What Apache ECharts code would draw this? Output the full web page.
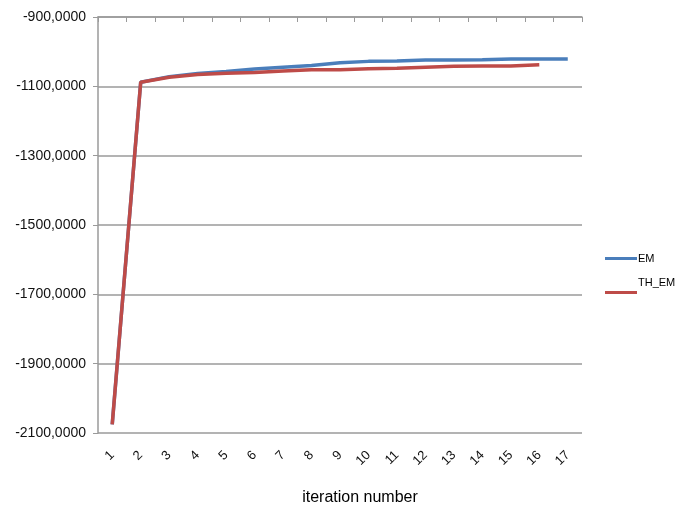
<!DOCTYPE html>
<html>
<head>
<meta charset="utf-8">
<script src="https://cdn.jsdelivr.net/npm/echarts@6/dist/echarts.min.js"></script>
<style>html,body{margin:0;padding:0;background:#fff;}#c{width:683px;height:506px;}</style>
</head>
<body>
<div id="c"></div>
<script>
var categories = ['1','2','3','4','5','6','7','8','9','10','11','12','13','14','15','16','17'];
var emValues = [-2075,-1088,-1072,-1063,-1057,-1050,-1045,-1040,-1032,-1028,-1027,-1024,-1024,-1023,-1021,-1021,-1021];
var thEmValues = [-2075,-1088,-1074,-1066,-1062,-1060,-1056,-1052,-1052,-1049,-1048,-1045,-1042,-1041,-1041,-1038];
var yMin = -2100, yMax = -900, yStep = 200;

var chart = echarts.init(document.getElementById('c'));
var font = 'Liberation Sans, Arial, sans-serif';
chart.setOption({
  animation: false,
  backgroundColor: '#fff',
  grid: {left: 98, right: 101, top: 17, bottom: 73, containLabel: false, outerBoundsMode: 'none'},
  legend: {
    orient: 'vertical', left: 600, top: 248, itemGap: 13,
    itemWidth: 32, itemHeight: 3, icon: 'rect',
    textStyle: {fontFamily: font, fontSize: 11, color: '#000', padding: [0,0,0,-4],
      rich: {up: {fontFamily: font, fontSize: 11, color: '#000', lineHeight: 20}}},
    formatter: function (name) { return name === 'TH_EM' ? '{up|TH_EM}\n{up| }' : name; },
    data: ['EM', 'TH_EM']
  },
  xAxis: [{
    type: 'category', data: categories, position: 'bottom', boundaryGap: true,
    axisLine: {show: false}, axisTick: {show: false},
    axisLabel: {rotate: 45, margin: 20, fontFamily: font, fontSize: 13, color: '#111'},
    name: 'iteration number', nameLocation: 'middle', nameGap: 57,
    nameTextStyle: {fontFamily: font, fontSize: 16, color: '#000', padding: [0,0,0,40]}
  },{
    type: 'category', data: categories, position: 'top', boundaryGap: true,
    axisLine: {show: true, lineStyle: {color: '#9a9a9a', width: 1.5}},
    axisTick: {show: true, inside: true, length: 5, lineStyle: {color: '#9a9a9a'}},
    axisLabel: {show: false}
  }],
  yAxis: {
    type: 'value', min: yMin, max: yMax, interval: yStep,
    axisLine: {show: true, lineStyle: {color: '#9a9a9a', width: 1.5}},
    axisTick: {show: true, length: 5, lineStyle: {color: '#9a9a9a'}},
    splitLine: {show: true, lineStyle: {color: '#9a9a9a', width: 1.5}},
    axisLabel: {
      margin: 12, fontFamily: font, fontSize: 14, color: '#111',
      formatter: function (v) { return v + ',0000'; }
    }
  },
  series: [{
    name: 'EM', type: 'line', data: emValues, symbol: 'none',
    lineStyle: {color: '#4a7ebb', width: 3.5}, itemStyle: {color: '#4a7ebb'}
  },{
    name: 'TH_EM', type: 'line', data: thEmValues, symbol: 'none',
    lineStyle: {color: '#be4b48', width: 3.5}, itemStyle: {color: '#be4b48'}
  }]
});
</script>
</body>
</html>
